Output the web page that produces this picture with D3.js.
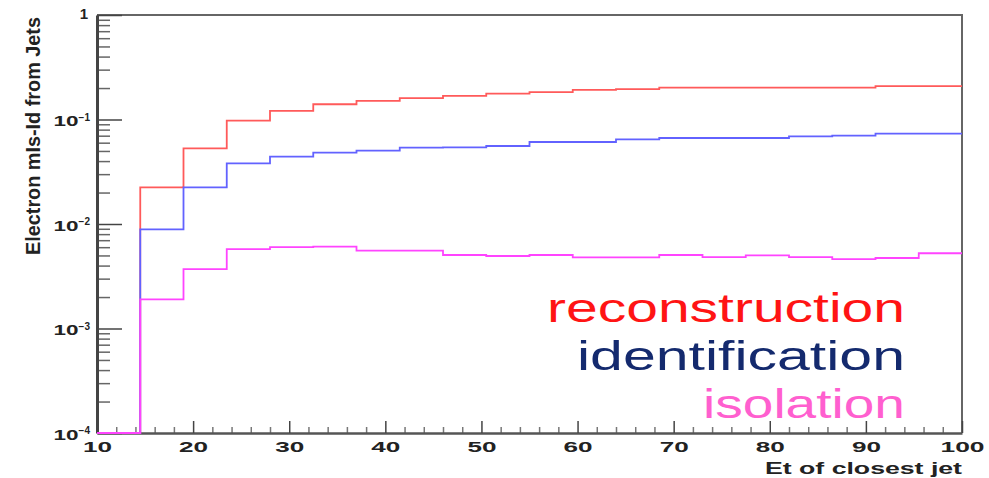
<!DOCTYPE html>
<html>
<head>
<meta charset="utf-8">
<script src="https://cdn.jsdelivr.net/npm/d3@7"></script>
<style>
  body { margin: 0; background: #fff; }
  svg { display: block; }
  text { font-family: "Liberation Sans", Arial, sans-serif; }
</style>
</head>
<body>
<svg id="chart" width="989" height="478"></svg>
<script>
// Bin edges of the jet-Et histogram (GeV), 20 bins of 4.5
const binEdges = [10, 14.5, 19, 23.5, 28, 32.5, 37, 41.5, 46, 50.5, 55, 59.5, 64, 68.5, 73, 77.5, 82, 86.5, 91, 95.5, 100];

// Electron mis-id rate per bin for each selection step
const reconstruction = [0, 0.0224, 0.053, 0.0975, 0.121, 0.140, 0.151, 0.160, 0.168, 0.177, 0.183, 0.192, 0.195, 0.2016, 0.2016, 0.2016, 0.2016, 0.2016, 0.209, 0.209];
const identification = [0, 0.0089, 0.0224, 0.0381, 0.0441, 0.0481, 0.0503, 0.0537, 0.0542, 0.0558, 0.0609, 0.0609, 0.0646, 0.0665, 0.0665, 0.0665, 0.069, 0.070, 0.0731, 0.0731];
const isolation = [0, 0.0019, 0.0037, 0.00576, 0.0060, 0.00607, 0.00555, 0.00555, 0.00505, 0.00494, 0.00505, 0.0048, 0.0048, 0.00505, 0.00483, 0.0050, 0.00483, 0.00462, 0.00473, 0.00525];

const xTickValues = [10, 20, 30, 40, 50, 60, 70, 80, 90, 100];
const yTickExponents = [0, -1, -2, -3, -4];

const seriesNames = ["reconstruction", "identification", "isolation"];
const seriesValues = [reconstruction, identification, isolation];
const lineColors = ["#ff5a5a", "#6262ff", "#ff44ff"];
const labelColors = ["#ff1414", "#142a6e", "#ff5fcf"];

const svg = d3.select("#chart");
const plotLeft = 97, plotRight = 962, plotTop = 15, plotBottom = 433;

const x = d3.scaleLinear().domain([10, 100]).range([plotLeft, plotRight]);
const y = d3.scaleLog().domain([1e-4, 1]).range([plotBottom, plotTop]);
const yMin = 1e-4;

// frame: top and right edges
svg.append("path")
  .attr("d", `M${plotLeft},${plotTop}H${plotRight}V${plotBottom}`)
  .attr("fill", "none")
  .attr("stroke", "#666")
  .attr("stroke-width", 2);

// x axis: major ticks every 10, minor every 2, drawn inward
const xMinor = d3.range(12, 100, 2).filter(v => v % 10 !== 0);
svg.append("g")
  .attr("transform", `translate(0,${plotBottom})`)
  .call(d3.axisBottom(x).tickValues(xMinor).tickSize(-6).tickFormat(""))
  .call(g => g.select(".domain").remove())
  .call(g => g.selectAll("line").attr("stroke", "#777").attr("stroke-width", 1.5));

const xAxis = svg.append("g")
  .attr("transform", `translate(0,${plotBottom})`)
  .call(d3.axisBottom(x).tickValues(xTickValues).tickSize(-12).tickSizeOuter(0).tickPadding(8).tickFormat(d3.format("d")));
xAxis.select(".domain").attr("stroke", "#555").attr("stroke-width", 2.5);
xAxis.selectAll("line").attr("stroke", "#444").attr("stroke-width", 1.5);
xAxis.selectAll("text")
  .attr("font-size", 15)
  .attr("font-weight", "bold")
  .attr("fill", "#222")
  .attr("lengthAdjust", "spacingAndGlyphs")
  .attr("textLength", d => d >= 100 ? 44 : 29);

// y axis: decade ticks long, 2..9 sub-ticks short, all drawn inward
const yMinor = [];
for (let e = -4; e < 0; e++) for (let m = 2; m <= 9; m++) yMinor.push(m * Math.pow(10, e));
svg.append("g")
  .attr("transform", `translate(${plotLeft},0)`)
  .call(d3.axisLeft(y).tickValues(yMinor).tickSize(-13).tickFormat(""))
  .call(g => g.select(".domain").remove())
  .call(g => g.selectAll("line").attr("stroke", "#666").attr("stroke-width", 1.5));

const yAxis = svg.append("g")
  .attr("transform", `translate(${plotLeft},0)`)
  .call(d3.axisLeft(y).tickValues(yTickExponents.map(e => Math.pow(10, e))).tickSize(-25).tickSizeOuter(0).tickPadding(9).tickFormat(""));
yAxis.select(".domain").attr("stroke", "#444").attr("stroke-width", 3);
yAxis.selectAll("line").attr("stroke", "#444").attr("stroke-width", 1.5);

yAxis.selectAll(".tick text").each(function(d) {
  const t = d3.select(this)
    .attr("font-size", 15)
    .attr("font-weight", "bold")
    .attr("fill", "#222")
    .attr("dy", "0.4em");
  const exp = Math.round(Math.log10(d));
  if (exp === 0) {
    t.attr("x", -9).attr("dy", "0.2em").text("1");
  } else {
    t.attr("x", -7);
    t.append("tspan").text("10").attr("textLength", 25).attr("lengthAdjust", "spacingAndGlyphs");
    t.append("tspan").text("\u2212" + (-exp)).attr("font-size", 10).attr("dy", "-0.55em");
  }
});

// histogram step lines, drawn over the axes
const stepLine = d3.line()
  .x(d => x(d[0]))
  .y(d => y(Math.max(d[1], yMin)))
  .curve(d3.curveStepAfter);

seriesValues.forEach((vals, s) => {
  const pts = vals.map((v, i) => [binEdges[i], v]);
  pts.push([binEdges[binEdges.length - 1], vals[vals.length - 1]]);
  svg.append("path")
    .attr("d", stepLine(pts))
    .attr("fill", "none")
    .attr("stroke", lineColors[s])
    .attr("stroke-width", 1.8);
});

// axis titles
svg.append("text")
  .attr("x", plotRight).attr("y", 474)
  .attr("text-anchor", "end")
  .attr("font-size", 16).attr("font-weight", "bold").attr("fill", "#222")
  .attr("lengthAdjust", "spacingAndGlyphs").attr("textLength", 197)
  .text("Et of closest jet");

svg.append("text")
  .attr("transform", `translate(40,${plotTop + 2}) rotate(-90)`)
  .attr("text-anchor", "end")
  .attr("font-size", 21).attr("font-weight", "bold").attr("fill", "#222")
  .attr("lengthAdjust", "spacingAndGlyphs").attr("textLength", 238)
  .text("Electron mIs-Id from Jets");

// series labels
const labelY = [322, 370, 418];
const labelW = [358, 328, 202];
seriesNames.forEach((name, i) => {
  svg.append("text")
    .attr("x", 905).attr("y", labelY[i])
    .attr("text-anchor", "end")
    .attr("font-family", "'Comic Sans MS', 'Comic Neue', 'Open Sans', sans-serif")
    .attr("font-size", 40)
    .attr("fill", labelColors[i])
    .attr("lengthAdjust", "spacingAndGlyphs").attr("textLength", labelW[i])
    .text(name);
});
</script>
</body>
</html>
